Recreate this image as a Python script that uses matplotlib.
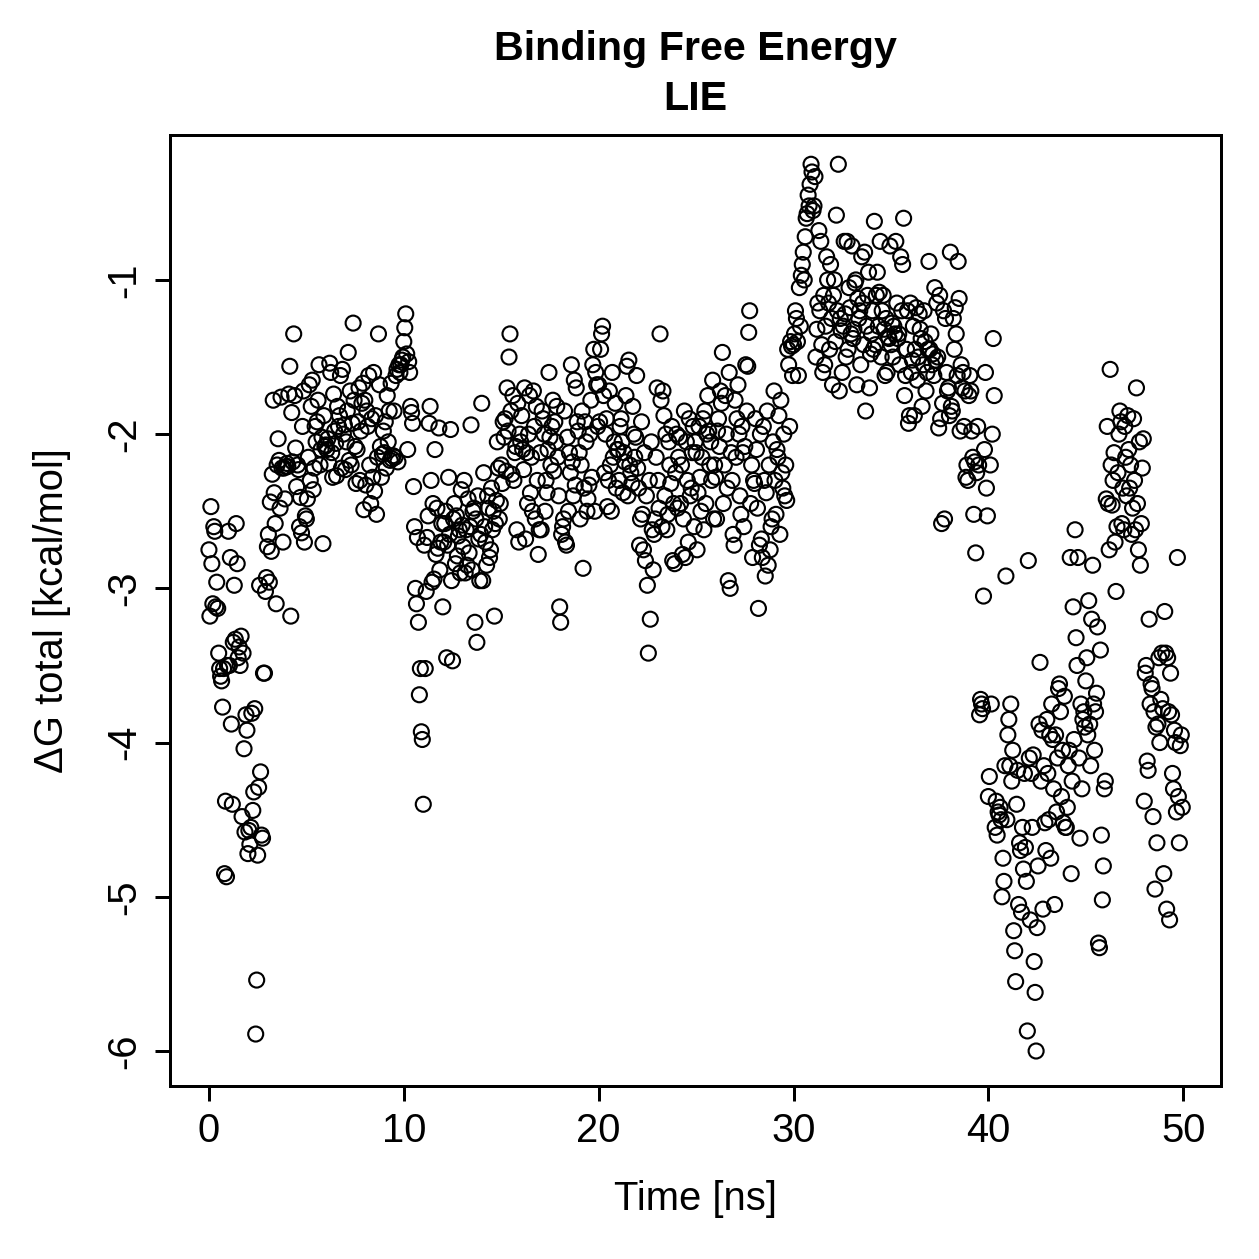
import numpy as np
import matplotlib
matplotlib.use("Agg")
import matplotlib.pyplot as plt

plt.rcParams['font.family'] = ['Liberation Sans', 'DejaVu Sans']

# LIE binding free energy per frame, 0.05 ns between frames
dt_ns = 0.05

dg_00_10 = [
    -2.75, -3.18, -2.47, -2.84, -3.1, -2.6, -2.63, -3.12, -2.96, -3.13, -3.42, -3.52, -3.57, -3.6, -3.77, -3.52, -4.85, -4.38, -4.87, -3.5,
    -2.63, -3.5, -2.8, -3.88, -4.4, -3.35, -2.98, -3.33, -2.58, -2.84, -3.45, -3.38, -3.5, -3.31, -4.48, -3.42, -4.04, -4.58, -3.82, -3.92,
    -4.72, -4.57, -4.66, -4.55, -3.81, -4.44, -4.32, -3.78, -5.89, -5.54, -4.73, -4.29, -2.98, -4.19, -4.6, -4.62, -3.55, -3.55, -3.02, -2.93,
    -2.73, -2.65, -2.96, -2.44, -2.76, -2.26, -1.78, -2.38, -2.58, -3.1, -2.2, -2.03, -2.17, -2.48, -1.76, -2.22, -2.7, -2.22, -2.42, -2.21,
    -2.19, -2.21, -1.74, -1.56, -3.18, -1.86, -2.18, -1.35, -1.75, -2.09, -2.34, -2.2, -2.23, -2.6, -2.41, -2.64, -1.95, -1.72, -2.7, -2.53,
    -2.55, -2.42, -2.15, -1.68, -2.3, -1.82, -1.65, -2.36, -2.22, -1.95, -2.05, -1.92, -1.78, -1.55, -2.2, -2.1, -2.02, -2.71, -1.88, -2.08,
    -2.07, -2.1, -2.03, -2.19, -1.54, -1.6, -2.12, -2.28, -1.74, -1.98, -2.06, -2.27, -1.82, -1.95, -1.88, -1.62, -2.22, -1.58, -2.0, -1.94,
    -2.23, -2.05, -1.85, -1.47, -2.17, -1.72, -2.2, -1.93, -1.28, -1.78, -2.08, -2.32, -2.1, -1.92, -1.7, -2.3, -1.98, -1.8, -1.67, -2.49,
    -1.78, -2.33, -1.85, -1.95, -1.62, -2.2, -2.45, -1.9, -2.28, -1.6, -2.37, -1.88, -2.52, -2.15, -1.35, -1.68, -2.08, -2.28, -2.13, -1.98,
    -2.12, -1.92, -2.22, -1.75, -2.05, -1.85, -2.17, -1.67, -2.16, -2.14, -1.85, -2.15, -1.62, -1.58, -2.18, -1.55, -1.6, -1.55, -1.52, -1.5,
]

dg_10_20 = [
    -1.4, -1.31, -1.22, -1.48, -2.1, -1.53, -1.6, -1.82, -1.86, -1.93, -2.34, -2.6, -3.0, -3.1, -2.67, -3.22, -3.69, -3.52, -3.93, -3.98,
    -4.4, -2.72, -3.52, -3.02, -2.67, -2.53, -1.93, -1.82, -2.3, -2.96, -2.45, -2.94, -2.1, -2.78, -2.48, -2.74, -1.96, -2.88, -2.7, -2.58,
    -3.12, -2.7, -2.58, -2.5, -3.45, -2.72, -2.28, -2.65, -1.97, -2.95, -3.47, -2.55, -2.45, -2.84, -2.53, -2.79, -2.66, -2.62, -2.9, -2.36,
    -2.59, -2.73, -2.3, -2.9, -2.62, -2.85, -2.42, -2.77, -2.6, -1.94, -2.88, -2.5, -2.48, -3.22, -2.55, -3.35, -2.4, -2.68, -2.95, -2.65,
    -1.8, -2.95, -2.25, -2.6, -2.7, -2.85, -2.4, -2.48, -2.8, -2.75, -2.35, -2.62, -2.5, -3.18, -2.58, -2.43, -2.05, -2.22, -2.55, -2.45,
    -2.2, -2.32, -1.92, -2.02, -1.9, -2.24, -1.7, -1.98, -1.5, -1.35, -1.85, -2.26, -1.75, -2.3, -2.12, -2.08, -2.62, -1.8, -2.7, -2.0,
    -2.05, -1.88, -2.1, -2.23, -1.7, -2.68, -2.12, -2.45, -2.0, -1.75, -2.38, -2.15, -2.5, -1.72, -1.95, -2.55, -1.82, -2.3, -2.78, -2.62,
    -2.12, -2.62, -1.85, -1.9, -2.0, -2.5, -2.3, -2.38, -2.1, -1.6, -2.02, -2.2, -1.95, -1.78, -2.24, -1.92, -2.05, -1.82, -2.15, -2.4,
    -3.12, -3.22, -2.65, -2.6, -2.55, -1.85, -2.7, -2.72, -2.02, -2.5, -2.12, -2.25, -1.55, -2.18, -2.4, -1.65, -2.33, -1.7, -1.92, -1.98,
    -2.12, -2.55, -2.2, -1.85, -2.87, -2.35, -1.92, -2.05, -2.5, -2.42, -2.33, -2.0, -1.78, -2.28, -1.55, -1.45, -2.5, -1.6, -1.68, -1.95,
]

dg_20_30 = [
    -1.68, -1.92, -1.45, -1.35, -1.3, -1.75, -2.25, -2.0, -1.9, -2.47, -2.3, -1.72, -2.2, -2.5, -1.6, -2.15, -2.05, -1.8, -2.35, -2.1,
    -2.1, -2.3, -1.95, -1.9, -2.05, -2.38, -2.12, -2.18, -1.75, -1.56, -2.4, -1.52, -2.2, -2.25, -2.32, -1.82, -2.0, -2.15, -2.02, -1.62,
    -2.22, -2.35, -2.72, -2.55, -1.92, -2.52, -2.75, -2.12, -2.82, -2.4, -2.98, -3.42, -2.3, -3.2, -2.05, -2.62, -2.88, -2.65, -2.55, -2.15,
    -1.7, -2.3, -2.48, -1.35, -1.78, -2.6, -1.72, -1.88, -2.4, -2.0, -2.62, -2.52, -2.05, -2.2, -2.32, -1.95, -2.82, -2.45, -2.84, -2.25,
    -2.0, -2.48, -2.15, -2.02, -2.45, -2.2, -2.78, -2.55, -1.85, -2.8, -2.05, -2.3, -2.7, -1.9, -2.4, -2.35, -2.12, -1.95, -2.6, -2.05,
    -2.12, -2.75, -2.38, -1.95, -2.28, -2.5, -2.15, -1.9, -2.62, -1.85, -2.45, -2.0, -1.75, -1.98, -2.2, -2.05, -2.3, -1.65, -2.55, -2.2,
    -2.28, -2.55, -1.98, -1.9, -2.08, -1.72, -1.8, -1.47, -2.45, -2.2, -1.75, -2.0, -2.35, -2.95, -1.6, -3.0, -2.12, -2.3, -2.65, -2.72,
    -1.78, -2.15, -1.9, -1.68, -2.0, -2.4, -2.52, -1.95, -2.12, -2.6, -2.08, -1.55, -1.85, -1.56, -1.34, -1.2, -2.45, -2.2, -2.8, -2.3,
    -2.32, -1.9, -2.1, -2.48, -3.13, -2.72, -2.0, -2.68, -2.8, -1.95, -2.3, -2.92, -2.38, -1.85, -2.85, -2.2, -2.75, -2.6, -2.55, -2.05,
    -1.72, -2.3, -2.52, -2.1, -2.15, -1.88, -2.65, -1.78, -2.25, -2.35, -2.0, -2.4, -2.2, -2.43, -1.45, -1.55, -1.95, -1.4, -1.43, -1.62,
]

dg_30_40 = [
    -1.42, -1.35, -1.2, -1.25, -1.4, -1.62, -1.05, -1.3, -0.97, -0.9, -0.82, -1.0, -0.72, -0.6, -0.57, -0.45, -0.52, -0.38, -0.25, -0.3,
    -0.55, -0.52, -0.33, -1.5, -1.32, -1.15, -0.68, -1.2, -0.75, -1.42, -1.6, -1.1, -1.55, -1.3, -0.85, -1.0, -1.15, -1.45, -0.9, -1.25,
    -1.68, -1.1, -1.0, -1.4, -0.58, -1.2, -0.25, -1.72, -1.25, -1.33, -1.6, -1.3, -0.75, -1.22, -1.5, -0.75, -1.45, -1.05, -1.18, -1.35,
    -0.78, -1.38, -1.32, -1.02, -1.0, -1.68, -1.12, -1.25, -1.2, -1.55, -0.85, -1.15, -1.42, -0.82, -1.85, -1.3, -1.1, -0.95, -1.7, -1.48,
    -1.35, -1.2, -1.45, -0.62, -1.42, -1.1, -0.95, -1.3, -1.08, -0.75, -1.5, -1.2, -1.1, -1.32, -1.62, -1.25, -1.6, -1.37, -1.38, -0.78,
    -1.42, -1.28, -1.5, -1.3, -1.35, -0.75, -1.15, -1.38, -1.35, -1.55, -0.85, -1.2, -0.9, -0.6, -1.75, -1.62, -1.45, -1.2, -1.93, -1.88,
    -1.15, -1.6, -1.52, -1.3, -1.88, -1.45, -1.18, -1.65, -1.5, -1.22, -1.32, -1.38, -1.82, -1.55, -1.2, -1.4, -1.72, -1.6, -1.45, -0.88,
    -1.45, -1.35, -1.55, -1.48, -1.62, -1.05, -1.52, -1.15, -1.5, -1.96, -1.1, -1.9, -2.58, -1.8, -1.2, -2.55, -1.25, -1.6, -1.72, -1.7,
    -1.88, -0.82, -1.82, -1.85, -1.25, -1.45, -1.18, -1.35, -1.62, -0.88, -1.12, -1.98, -1.55, -1.7, -1.6, -1.95, -1.72, -2.28, -2.2, -2.3,
    -1.75, -1.62, -1.72, -1.98, -2.15, -2.52, -2.18, -2.77, -2.25, -1.95, -2.2, -3.82, -3.72, -3.75, -3.78, -3.05, -2.1, -1.6, -2.35, -2.53,
]

dg_40_50 = [
    -4.35, -4.22, -2.2, -3.75, -2.0, -1.38, -1.75, -4.55, -4.38, -4.6, -4.45, -4.47, -4.42, -4.5, -5.0, -4.75, -4.9, -4.15, -2.92, -4.5,
    -3.95, -3.85, -4.15, -3.75, -4.25, -4.05, -5.22, -5.35, -5.55, -4.4, -4.18, -5.05, -4.65, -4.7, -5.1, -4.55, -4.82, -4.2, -4.68, -4.9,
    -5.87, -2.82, -4.1, -5.15, -4.2, -4.55, -4.08, -5.42, -5.62, -6.0, -5.2, -4.8, -3.88, -3.48, -4.25, -3.92, -5.08, -4.15, -4.52, -4.7,
    -3.85, -4.2, -4.5, -3.95, -4.75, -3.75, -3.98, -4.3, -5.05, -3.95, -4.45, -4.1, -3.65, -3.62, -3.8, -4.35, -4.05, -4.52, -3.7, -4.55,
    -4.55, -4.42, -4.15, -4.05, -2.8, -4.85, -4.25, -3.12, -3.98, -2.62, -3.32, -3.5, -2.8, -4.1, -4.62, -3.75, -4.3, -3.85, -3.8, -3.9,
    -3.6, -3.45, -3.95, -3.08, -3.88, -4.15, -3.2, -2.85, -3.75, -4.05, -3.8, -3.68, -3.25, -5.3, -5.33, -3.4, -4.6, -5.02, -4.8, -4.3,
    -4.25, -2.42, -1.95, -2.45, -2.75, -1.58, -2.2, -2.46, -2.3, -2.12, -2.7, -3.02, -2.6, -2.25, -2.0, -1.85, -1.92, -2.58, -2.35, -2.62,
    -1.95, -2.15, -2.4, -1.88, -2.1, -2.35, -2.2, -2.65, -2.48, -1.9, -2.3, -2.62, -1.7, -2.45, -2.75, -2.05, -2.85, -2.58, -2.22, -2.03,
    -4.38, -3.55, -3.5, -4.12, -4.18, -3.2, -3.75, -3.62, -3.65, -4.48, -3.8, -4.95, -3.9, -4.65, -3.88, -3.45, -4.0, -3.72, -3.42, -3.78,
    -4.85, -3.15, -3.42, -5.08, -3.45, -3.8, -5.15, -3.55, -3.82, -4.2, -4.3, -3.92, -4.0, -4.45, -2.8, -4.35, -4.65, -4.02, -3.95, -4.42,
]

dg_total = np.array(dg_00_10 + dg_10_20 + dg_20_30 + dg_30_40 + dg_40_50)
time_ns = np.arange(len(dg_total)) * dt_ns

x_ticks = [0, 10, 20, 30, 40, 50]
y_ticks = [-6, -5, -4, -3, -2, -1]

fig = plt.figure(figsize=(1259 / 180, 1259 / 180), dpi=180)
ax = fig.add_axes([0.135, 0.1374, 0.835, 0.7554])

ax.scatter(time_ns, dg_total, s=36, facecolors='none', edgecolors='black', linewidths=0.85)

ax.set_xlim(-2.0, 51.95)
ax.set_ylim(-6.227, -0.06)
ax.set_xticks(x_ticks)
ax.set_yticks(y_ticks)
ax.set_yticklabels([str(v) for v in y_ticks])

for sp in ax.spines.values():
    sp.set_linewidth(1.2)
ax.tick_params(axis='both', direction='out', length=6, width=1.2, labelsize=16, pad=4.5)
for lab in ax.get_yticklabels():
    lab.set_rotation(90)
    lab.set_va('center')
    lab.set_ha('right')

ax.set_xlabel("Time [ns]", fontsize=16, labelpad=12)
ax.set_ylabel("\u0394G total [kcal/mol]", fontsize=16, labelpad=14)
ax.set_title("Binding Free Energy\nLIE", fontsize=16.5, fontweight='bold', pad=10, linespacing=1.4)

fig.savefig("out.png", dpi=180)
